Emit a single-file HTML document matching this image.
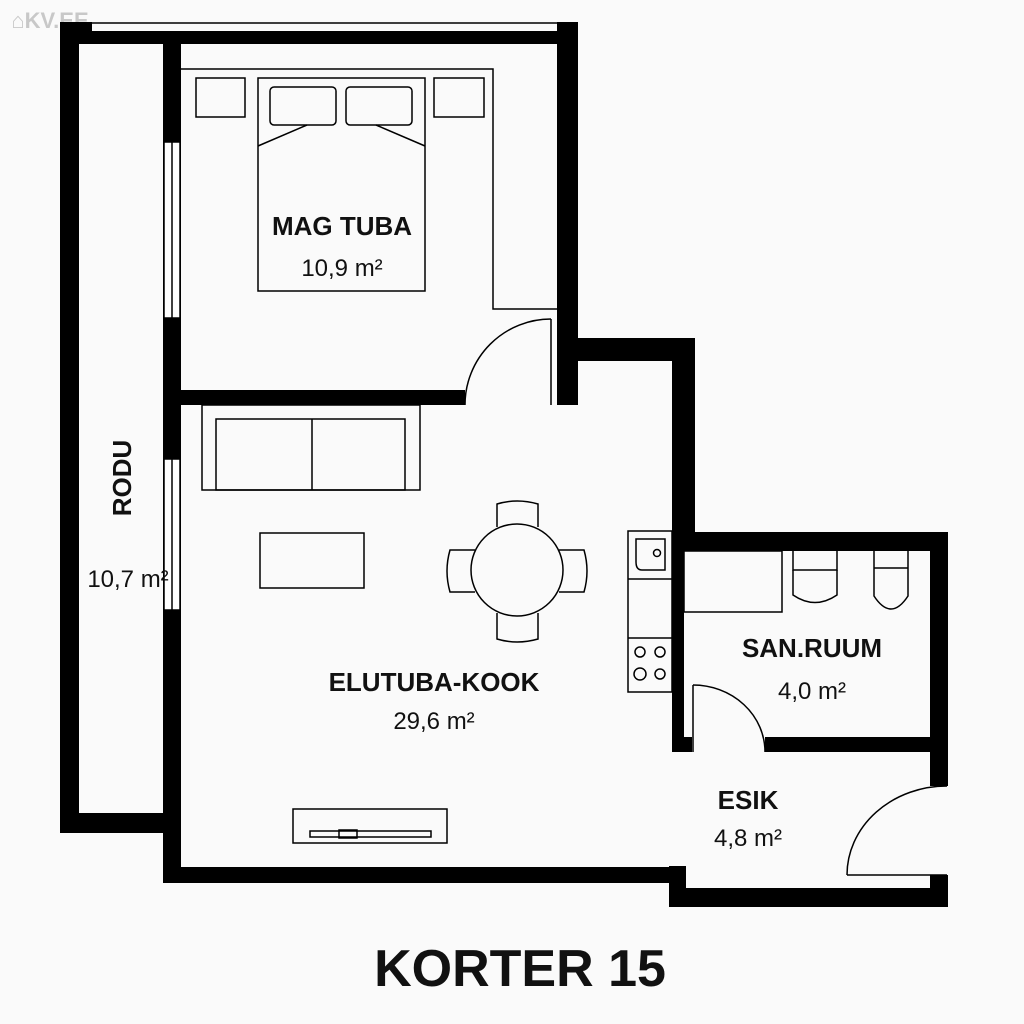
<!DOCTYPE html>
<html><head><meta charset="utf-8"><style>
html,body{margin:0;padding:0;background:#fafafa;}
svg{display:block}
text{font-family:"Liberation Sans","DejaVu Sans",sans-serif;fill:#111;text-anchor:middle}
.b{font-weight:bold;font-size:26px}
.r{font-size:24px}
</style></head><body>
<svg width="1024" height="1024" viewBox="0 0 1024 1024" xmlns="http://www.w3.org/2000/svg">
<rect width="1024" height="1024" fill="#fafafa"/>
<text x="50" y="28" style="font-size:22px;font-weight:bold;fill:#c8c8c8">⌂KV.EE</text>
<g fill="#000">
<!-- top -->
<rect x="60" y="22" width="32" height="22"/>
<rect x="60" y="31" width="518" height="13"/>
<rect x="557" y="22" width="21" height="22"/>
<line x1="92" y1="23" x2="560" y2="23" stroke="#000" stroke-width="1.5"/>
<!-- left balcony wall -->
<rect x="60" y="22" width="19" height="811"/>
<rect x="60" y="813" width="121" height="20"/>
<!-- inner wall -->
<rect x="163" y="31" width="18" height="852"/>
<!-- bedroom right wall -->
<rect x="557" y="31" width="21" height="374"/>
<!-- wall under bedroom -->
<rect x="163" y="390" width="302" height="15"/>
<!-- kitchen extension -->
<rect x="557" y="338" width="138" height="23"/>
<rect x="672" y="338" width="23" height="213"/>
<rect x="672" y="532" width="276" height="19"/>
<rect x="672" y="532" width="12" height="220"/>
<rect x="672" y="737" width="20" height="15"/>
<rect x="765" y="737" width="183" height="15"/>
<rect x="930" y="532" width="18" height="254"/>
<rect x="930" y="875" width="18" height="32"/>
<rect x="669" y="888" width="279" height="19"/>
<rect x="669" y="866" width="17" height="41"/>
<rect x="163" y="867" width="523" height="16"/>
</g>
<g fill="#fff" stroke="#000" stroke-width="1.5">
<!-- windows -->
<rect x="164" y="142" width="16" height="176"/>
<line x1="172" y1="142" x2="172" y2="318"/>
<rect x="164" y="459" width="16" height="151"/>
<line x1="172" y1="459" x2="172" y2="610"/>
</g>
<g fill="none" stroke="#000" stroke-width="1.5">
<!-- wardrobe -->
<polyline points="181,69 493,69 493,309 557,309"/>
<rect x="196" y="78" width="49" height="39"/>
<rect x="434" y="78" width="50" height="39"/>
<rect x="258" y="78" width="167" height="213"/>
<rect x="270" y="87" width="66" height="38" rx="4"/>
<rect x="346" y="87" width="66" height="38" rx="4"/>
<line x1="258" y1="146" x2="307" y2="125"/>
<line x1="376" y1="125" x2="425" y2="146"/>
<!-- bedroom door -->
<line x1="551" y1="319" x2="551" y2="405"/>
<path d="M551,319 A86,86 0 0 0 465,405"/>
<!-- sofa -->
<rect x="202" y="405" width="218" height="85"/>
<rect x="216" y="419" width="189" height="71"/>
<line x1="312" y1="419" x2="312" y2="490"/>
<rect x="260" y="533" width="104" height="55"/>
<!-- table & chairs -->
<path d="M497,527 L497,504 Q517,498 538,504 L538,527"/>
<path d="M497,613 L497,639 Q517,645 538,639 L538,613"/>
<path d="M475,550 L450,550 Q444,571 450,592 L475,592"/>
<path d="M559,550 L584,550 Q590,571 584,592 L559,592"/>
<circle cx="517" cy="570" r="46" fill="#fafafa"/>
<!-- tv -->
<rect x="293" y="809" width="154" height="34"/>
<rect x="310" y="831" width="121" height="6"/>
<rect x="339" y="830" width="18" height="8"/>
<!-- kitchen -->
<rect x="628" y="531" width="44" height="161"/>
<line x1="628" y1="579" x2="672" y2="579"/>
<line x1="628" y1="638" x2="672" y2="638"/>
<path d="M636,539 L665,539 L665,570 L642,570 Q636,570 636,562 Z"/>
<circle cx="657" cy="553" r="3.5"/>
<circle cx="640" cy="652" r="5"/><circle cx="660" cy="652" r="5"/>
<circle cx="640" cy="674" r="6"/><circle cx="660" cy="674" r="5"/>
<!-- bathroom -->
<rect x="684" y="551" width="98" height="61"/>
<path d="M793,551 L793,570 L837,570 L837,551"/>
<path d="M793,570 L793,595 Q815,610 837,595 L837,570"/>
<path d="M874,551 L874,596 Q891,622 908,596 L908,551"/>
<line x1="874" y1="568" x2="908" y2="568"/>
<line x1="693" y1="685" x2="693" y2="752"/>
<path d="M693,685 A72,67 0 0 1 765,752"/>
<!-- entrance door -->
<line x1="847" y1="875" x2="947" y2="875"/>
<path d="M847,875 A100,89 0 0 1 947,786"/>
</g>
<text class="b" x="342" y="235">MAG TUBA</text>
<text class="r" x="342" y="276">10,9 m²</text>
<text class="b" transform="translate(131,478) rotate(-90)">RODU</text>
<text class="r" x="128" y="587">10,7 m²</text>
<text class="b" x="434" y="691">ELUTUBA-KOOK</text>
<text class="r" x="434" y="729">29,6 m²</text>
<text class="b" x="812" y="657">SAN.RUUM</text>
<text class="r" x="812" y="699">4,0 m²</text>
<text class="b" x="748" y="809">ESIK</text>
<text class="r" x="748" y="846">4,8 m²</text>
<text x="520" y="986" style="font-size:52px;font-weight:bold">KORTER 15</text>
</svg>
</body></html>
